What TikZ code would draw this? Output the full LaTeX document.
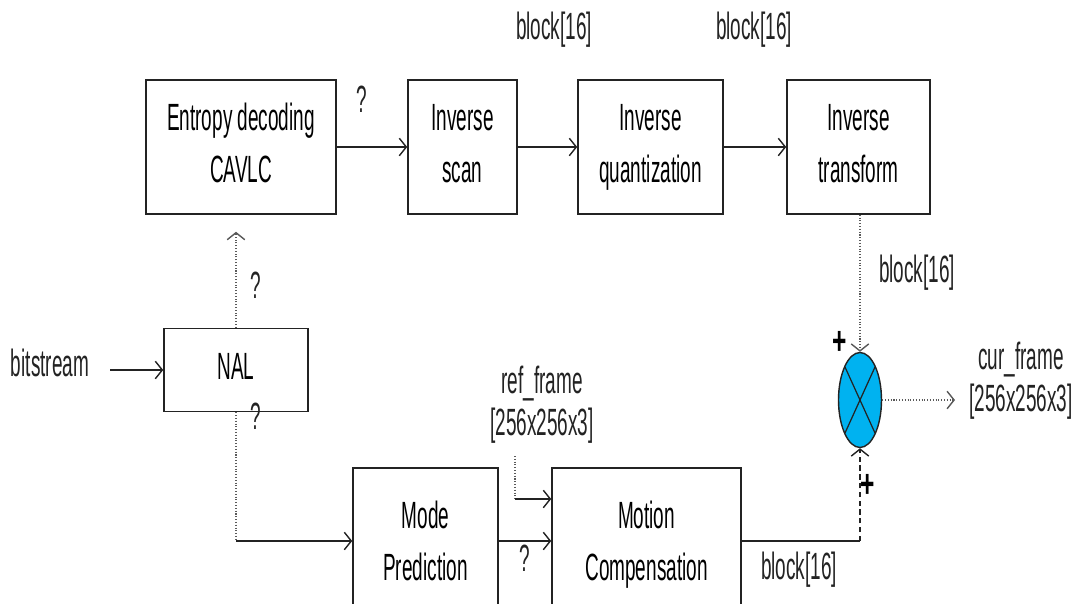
\documentclass[tikz,border=0pt]{standalone}
\usepackage{fontspec}
\setmainfont{Liberation Sans}
\usetikzlibrary{arrows.meta,shapes.geometric}
\definecolor{sumfill}{RGB}{0,178,240}
\definecolor{ink}{RGB}{35,35,35}
\newcommand\stxt[1]{\scalebox{1}[2]{\fontsize{10.8}{13}\selectfont\begin{tabular}{@{}c@{}}#1\end{tabular}}}
\begin{document}
\begin{tikzpicture}[x=0.02cm,y=-0.02cm,
  blk/.style={draw=ink, line width=0.9pt, rectangle, inner sep=0pt},
  lbl/.style={inner sep=0pt, text=ink},
  tip/.style={-{Straight Barb[length=4pt,width=10pt,line width=0.8pt]}},
  arr/.style={draw=ink, line width=1.1pt, tip},
  thinarr/.style={draw=ink!75, line width=0.6pt, densely dotted, tip},
  thinln/.style={draw=ink!75, line width=0.6pt, densely dotted},
  dashln/.style={draw=ink, line width=0.8pt, dash pattern=on 3pt off 2pt},
  plus/.style={inner sep=0pt, text=black}]
\useasboundingbox (0,0) rectangle (1076,603);
\clip (0,0) rectangle (1076,603);
\fill[white] (0,0) rectangle (1076,603);

% boxes
\node[blk, minimum width=3.8cm, minimum height=2.68cm] (ent) at (241,147) {\stxt{Entropy decoding\\[1.8pt]CAVLC}};
\node[blk, minimum width=2.18cm, minimum height=2.68cm] (scan) at (462.5,147) {\stxt{Inverse\\[1.8pt]scan}};
\node[blk, minimum width=2.9cm, minimum height=2.68cm] (quant) at (650.5,147) {\stxt{Inverse\\[1.8pt]quantization}};
\node[blk, minimum width=2.86cm, minimum height=2.68cm] (trans) at (858.5,147) {\stxt{Inverse\\[1.8pt]transform}};
\node[blk, minimum width=2.88cm, minimum height=1.66cm] (nal) at (236,370) {\stxt{NAL}};
\node[blk, minimum width=2.9cm, minimum height=3.08cm] (mp) at (425.5,545) {\stxt{Mode\\[1.8pt]Prediction}};
\node[blk, minimum width=3.78cm, minimum height=3.08cm] (mc) at (646.5,545) {\stxt{Motion\\[1.8pt]Compensation}};
\node[ellipse, draw=ink, line width=0.8pt, fill=sumfill, minimum width=0.86cm, minimum height=1.9cm, inner sep=0pt] (sum) at (860,400) {};
\draw[ink, line width=0.7pt] ([xshift=-0.3cm,yshift=0.66cm]sum.center) -- ([xshift=0.3cm,yshift=-0.66cm]sum.center);
\draw[ink, line width=0.7pt] ([xshift=0.3cm,yshift=0.66cm]sum.center) -- ([xshift=-0.3cm,yshift=-0.66cm]sum.center);

% labels
\node[lbl] (bits) at (50,367) {\stxt{bitstream}};
\node[lbl] (q1) at (362,103) {\stxt{?}};
\node[lbl] (b1) at (554,30) {\stxt{block[16]}};
\node[lbl] (b2) at (754,30) {\stxt{block[16]}};
\node[lbl] (q2) at (256,289) {\stxt{?}};
\node[lbl] (q3) at (256,420) {\stxt{?}};
\node[lbl] (b3) at (917,273) {\stxt{block[16]}};
\node[lbl] (ref) at (542,405) {\stxt{ref\_frame\\[-1pt][256x256x3]}};
\node[lbl] (q4) at (525,562) {\stxt{?}};
\node[lbl] (b4) at (799,570) {\stxt{block[16]}};
\node[lbl] (cur) at (1021,381) {\stxt{cur\_frame\\[-1pt][256x256x3]}};
\node[plus] (p1) at (840,343) {\scalebox{1}[1.6]{\fontsize{14}{14}\selectfont\bfseries +}};
\node[plus] (p2) at (868,486) {\scalebox{1}[1.6]{\fontsize{14}{14}\selectfont\bfseries +}};

% coordinates
\coordinate (bsin) at (110,370);
\coordinate (lowy) at (0,541);
\coordinate (refy) at (0,499);
\coordinate (reftop) at (515,456);
\coordinate (outend) at (955,400);

% connectors
\draw[arr] (bsin) -- (nal.west);
\draw[thinarr, shorten >=0.34cm] (nal.north) -- (nal.north |- ent.south);
\draw[arr] (ent.east) -- (scan.west);
\draw[arr] (scan.east) -- (quant.west);
\draw[arr] (quant.east) -- (trans.west);
\draw[thinarr] (trans.south -| sum.north) -- (sum.north);
\draw[thinarr, line width=0.8pt] (sum.east) -- (outend);
\draw[thinln] (nal.south) -- (nal.south |- lowy);
\draw[arr] (nal.south |- lowy) -- (mp.west |- lowy);
\draw[arr] (mp.east |- lowy) -- (mc.west |- lowy);
\draw[thinln] (reftop) -- (reftop |- refy);
\draw[arr] (reftop |- refy) -- (mc.west |- refy);
\draw[draw=ink, line width=1.1pt] (mc.east |- lowy) -- (sum.south |- lowy);
\draw[dashln, tip] (sum.south |- lowy) -- (sum.south);
\end{tikzpicture}
\end{document}
